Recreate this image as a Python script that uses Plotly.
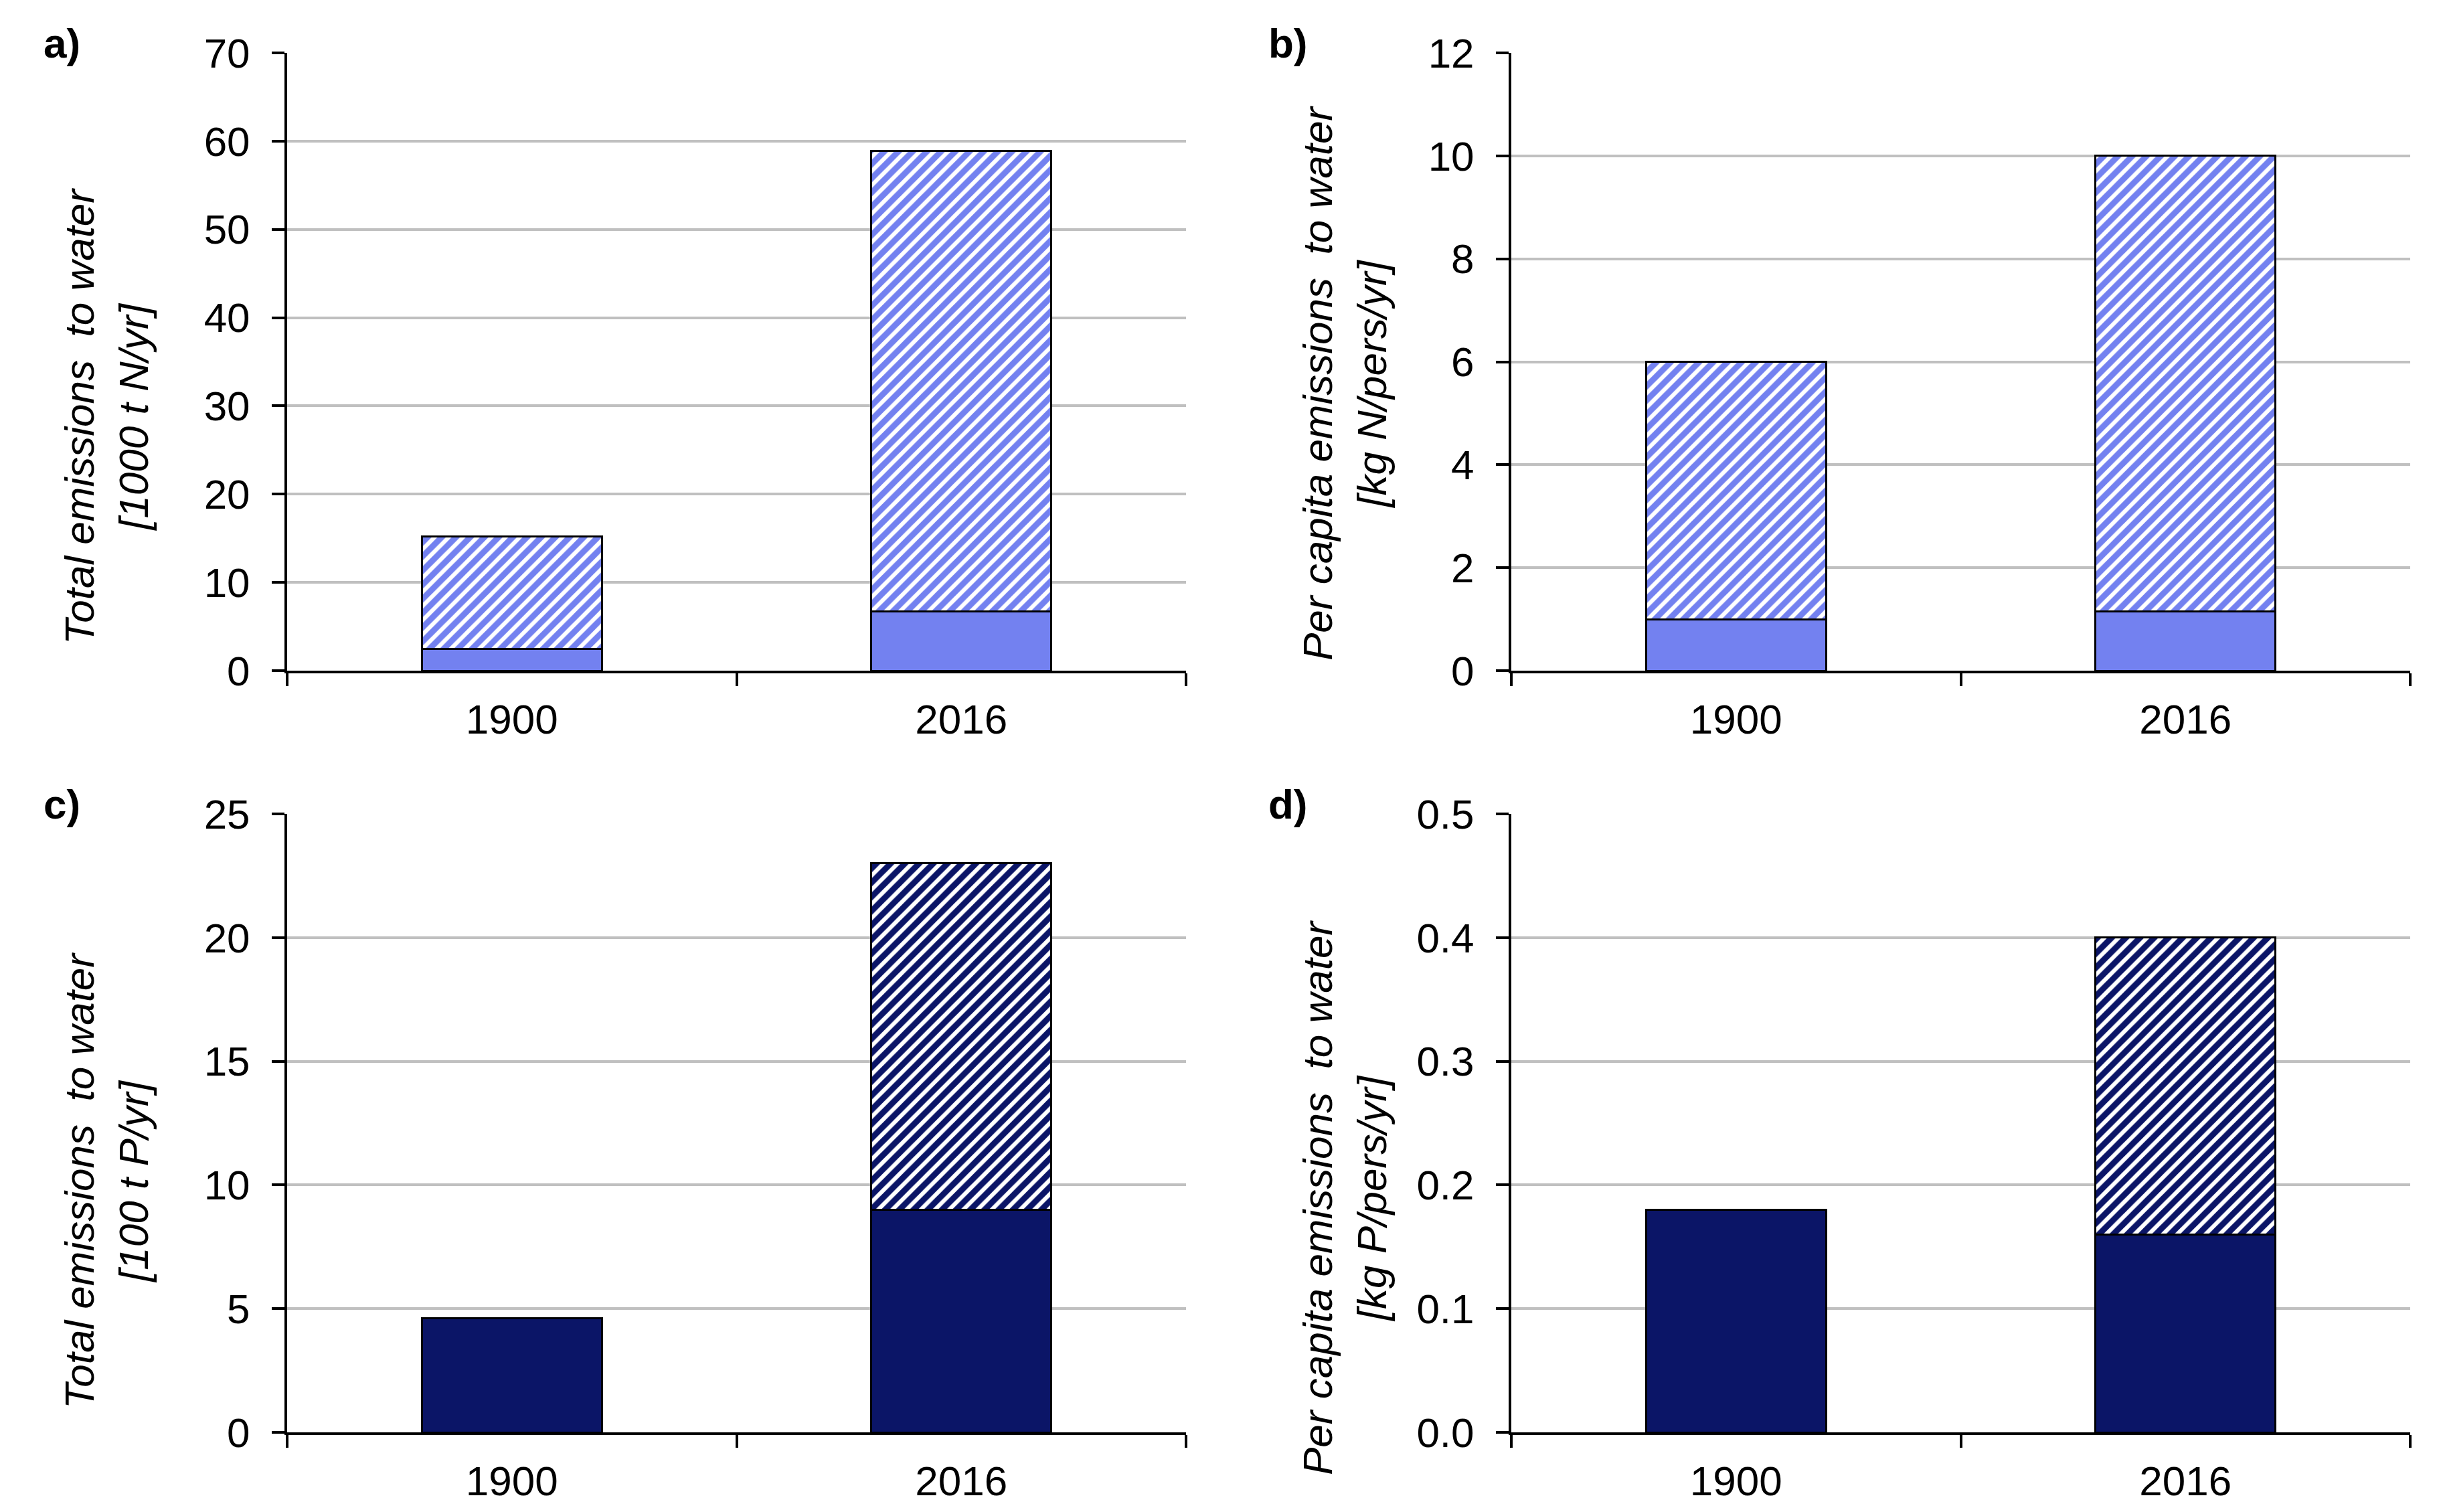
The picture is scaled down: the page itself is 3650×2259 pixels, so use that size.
import plotly.graph_objects as go

W, H = 3650, 2259

years = ["1900", "2016"]

# panel a: total N emissions [1000 t N/yr]
a_solid = [2.5, 6.7]
a_hatch = [12.7, 52.2]
# panel b: per capita N [kg N/pers/yr]
b_solid = [1.0, 1.15]
b_hatch = [5.0, 8.85]
# panel c: total P emissions [100 t P/yr]
c_solid = [4.6, 9.0]
c_hatch = [0.0, 14.0]
# panel d: per capita P [kg P/pers/yr]
d_solid = [0.18, 0.16]
d_hatch = [0.0, 0.24]

a_ticks = [0, 10, 20, 30, 40, 50, 60, 70]
b_ticks = [0, 2, 4, 6, 8, 10, 12]
c_ticks = [0, 5, 10, 15, 20, 25]
d_ticks = [0.0, 0.1, 0.2, 0.3, 0.4, 0.5]

titles = {
    "a": ("Total emissions\u00a0 to water", "[1000 t N/yr]"),
    "b": ("Per capita emissions\u00a0 to water", "[kg N/pers/yr]"),
    "c": ("Total emissions\u00a0 to water", "[100 t P/yr]"),
    "d": ("Per capita emissions\u00a0 to water", "[kg P/pers/yr]"),
}

LIGHT = "#7381F0"
NAVY = "#0B1567"
FONT = "Liberation Sans, Arial, sans-serif"
FS = 62

# pixel layout
left_x = {"a": (421, 1764), "b": (2250, 3593), "c": (421, 1764), "d": (2250, 3593)}
top_y = {"a": (71, 994), "b": (71, 994), "c": (1208, 2132), "d": (1208, 2132)}
title_x = {"a": 151, "b": 2001, "c": 151, "d": 2001}
title_y = {"a": 614, "b": 565, "c": 1756, "d": 1782}
label_pos = {"a": (55, 56), "b": (1885, 56), "c": (55, 1193), "d": (1885, 1193)}

panels = [
    ("a", a_solid, a_hatch, a_ticks, LIGHT, "%d"),
    ("b", b_solid, b_hatch, b_ticks, LIGHT, "%d"),
    ("c", c_solid, c_hatch, c_ticks, NAVY, "%d"),
    ("d", d_solid, d_hatch, d_ticks, NAVY, "%.1f"),
]

fig = go.Figure()
annotations = []
layout = {}

for i, (key, solid, hatch, ticks, col, fmt) in enumerate(panels):
    n = "" if i == 0 else str(i + 1)
    xa, ya = "x" + n, "y" + n
    fig.add_trace(go.Bar(
        x=years, y=solid, xaxis=xa, yaxis=ya, width=0.4,
        marker=dict(color=col, line=dict(color="black", width=3)),
        showlegend=False,
    ))
    fig.add_trace(go.Bar(
        x=years, y=hatch, xaxis=xa, yaxis=ya, width=0.4,
        marker=dict(color="white", line=dict(color="black", width=3),
                    pattern=dict(shape="/", fgcolor=col, bgcolor="white",
                                 size=15, solidity=0.6)),
        showlegend=False,
    ))
    x0, x1 = left_x[key]
    y0, y1 = top_y[key]
    layout["xaxis" + n] = dict(
        domain=[x0 / W, x1 / W], anchor=ya, type="category", automargin=False,
        range=[-0.5, 1.5], showline=True, linecolor="black", linewidth=4,
        ticks="outside", tickson="boundaries", ticklen=19, tickwidth=4,
        tickcolor="black", showgrid=False, zeroline=False,
        ticklabelstandoff=16,
        tickfont=dict(family=FONT, size=FS, color="black"),
    )
    layout["yaxis" + n] = dict(
        domain=[1 - y1 / H, 1 - y0 / H], anchor=xa, automargin=False,
        range=[ticks[0], ticks[-1]], tickvals=ticks,
        ticktext=[fmt % t for t in ticks],
        showline=True, linecolor="black", linewidth=4,
        ticks="outside", ticklen=19, tickwidth=4, tickcolor="black",
        showgrid=True, gridcolor="#C0C0C0", gridwidth=4, zeroline=False,
        ticklabelstandoff=20,
        tickfont=dict(family=FONT, size=FS, color="black"),
    )
    l1, l2 = titles[key]
    annotations.append(dict(
        text=f"<i>{l1}</i><br><i>{l2}</i>", textangle=-90,
        x=title_x[key] / W, y=1 - title_y[key] / H, xref="paper", yref="paper",
        xanchor="center", yanchor="middle", showarrow=False,
        font=dict(family=FONT, size=FS, color="black"),
    ))
    lx, ly = label_pos[key]
    annotations.append(dict(
        text=f"<b>{key})</b>", x=lx / W, y=1 - ly / H,
        xref="paper", yref="paper", xanchor="left", yanchor="middle",
        showarrow=False, font=dict(family=FONT, size=FS, color="black"),
    ))

fig.update_layout(
    template="none",
    width=W, height=H, barmode="stack",
    margin=dict(l=0, r=0, t=0, b=0, autoexpand=False),
    paper_bgcolor="white", plot_bgcolor="white",
    annotations=annotations,
    **layout,
)

fig.write_html("out.html")
